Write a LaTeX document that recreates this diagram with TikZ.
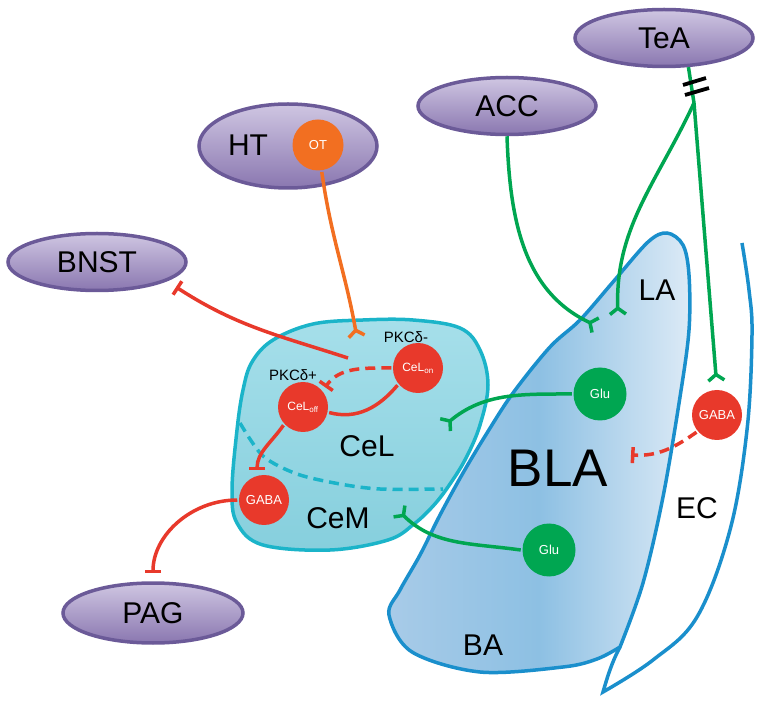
\documentclass[tikz,border=0pt]{standalone}
\usepackage{fontspec}
\setmainfont{Liberation Sans}
\usepackage{tikz}
\usetikzlibrary{shapes.geometric, arrows.meta, positioning}

\definecolor{nred}{HTML}{E8392B}
\definecolor{ngreen}{HTML}{00A651}
\definecolor{norange}{HTML}{F26F21}
\definecolor{areaedge}{HTML}{6B5A98}
\definecolor{areatop}{HTML}{CFC6E2}
\definecolor{areabot}{HTML}{8A77B0}
\definecolor{ceaedge}{HTML}{1BB4C9}
\definecolor{ceatop}{HTML}{A6DFEA}
\definecolor{ceabot}{HTML}{86CFDD}
\definecolor{blaedge}{HTML}{1A8FCC}
\definecolor{blaL}{HTML}{A8CBE8}
\definecolor{blaM}{HTML}{8DC0E3}
\definecolor{blaR}{HTML}{DCEAF6}

\begin{document}
\begin{tikzpicture}[x=1pt, y=-1pt, line width=3.5pt,
	area/.style={ellipse, draw=areaedge, top color=areatop, bottom color=areabot, minimum width=178pt, minimum height=57pt, inner sep=0pt, font=\fontsize{30}{30}\selectfont},
	cell/.style={circle, fill=#1, minimum size=50pt, inner sep=0pt, text=white, font=\fontsize{13}{13}\selectfont},
	lbl/.style={font=\fontsize{30}{30}\selectfont},
	exc/.style={draw=#1, -{Straight Barb[reversed, length=6pt, width=16pt]}},
	inh/.style={draw=nred, -{Bar[width=16pt]}},
	dashy/.style={dash pattern=on 10pt off 6pt}]
	\useasboundingbox (0,0) rectangle (764,703);

	% regions
	\draw[draw=blaedge, left color=blaL, right color=blaR, middle color=blaM]
	plot[smooth, tension=0.55] coordinates {(620,647) (597,659) (563,667) (480,672) (412,652) (389,615) (400,590) (420,555) (440,515) (463,473) (487,433) (513,393) (550,347) (580,320) (613,282) (648,242) (667,233) (683,245) (689,275) (689,330) (680,397) (663,497) (643,583) (620,647)} -- cycle;
	\draw[draw=blaedge] plot[smooth, tension=0.6] coordinates {(742,243) (749,290) (752,335) (747,430) (730,530) (697,617) (653,660) (603,692)} .. controls (608,675) and (612,662) .. (620,647);
	\draw[draw=ceaedge, top color=ceatop, bottom color=ceabot]
	plot[smooth cycle, tension=0.6] coordinates {(273,340) (313,324) (363,320) (413,320) (460,328) (480,350) (488,385) (480,425) (466,458) (450,484) (434,505) (414,524) (388,540) (330,550) (263,545) (237,523) (232,490) (237,430) (243,390) (252,362)};
	\draw[draw=ceaedge, dashy] plot[smooth] coordinates {(240,423) (263,456) (297,474) (340,484) (380,489) (443,489)};

	\node[lbl] (LA) at (657,290) {LA};
	\node[font=\fontsize{53}{53}\selectfont] (BLA) at (558,468) {BLA};
	\node[lbl] (BA) at (483,645) {BA};
	\node[lbl] (EC) at (697,508) {EC};
	\node[lbl] (CeL) at (367,446) {CeL};
	\node[lbl] (CeM) at (338,518) {CeM};

	% brain areas
	\node[area] (TeA) at (664,38) {TeA};
	\node[area] (ACC) at (507,106) {ACC};
	\node[area, minimum height=84pt] (HT) at (288,146) {};
	\node[lbl] (HTtxt) at (248,145) {HT};
	\node[area] (BNST) at (97,262) {BNST};
	\node[area, minimum width=180pt, minimum height=60pt] (PAG) at (153,613) {PAG};

	% cells
	\node[cell=norange, minimum size=51pt] (OT) at (318,145) {OT};
	\node[cell=nred, font=\fontsize{12}{12}\selectfont] (CeLon) at (418,368) {CeL\textsubscript{on}};
	\node[cell=nred, font=\fontsize{12}{12}\selectfont] (CeLoff) at (303,407) {CeL\textsubscript{off}};
	\node[cell=nred] (GABAcem) at (264,500) {GABA};
	\node[cell=ngreen, minimum size=53pt] (GluLA) at (600,394) {Glu};
	\node[cell=ngreen, minimum size=53pt] (GluBA) at (549,550) {Glu};
	\node[cell=nred] (GABAec) at (717,415) {GABA};
	\node[font=\fontsize{15}{15}\selectfont] (PKCm) at (406,337) {PKCδ-};
	\node[font=\fontsize{15}{15}\selectfont] (PKCp) at (293,375) {PKCδ+};

	\coordinate (otend) at (357,338);
	\coordinate (bnstaxon) at (348,358);
	\coordinate (bnstend) at (176,287);
	\coordinate (accend) at (597,326);
	\coordinate (teasplit) at (694,103);
	\coordinate (teala) at (618,316);
	\coordinate (glucel) at (444,426);
	\coordinate (glucem) at (398,510);
	\coordinate (blaend) at (631,455);

	\path
	(OT) edge[exc=norange, out=-82, in=100] (otend)
	(bnstaxon) edge[inh, out=162, in=-33] (bnstend)
	(CeLon.west) edge[inh, dashy, out=180, in=55, shorten >=3pt] (CeLoff.40)
	(CeLon.-140) edge[draw=nred, out=-130, in=-15] (CeLoff.-12)
	(CeLoff.-137) edge[inh, out=-125, in=90, shorten >=4pt] (GABAcem.105)
	(GABAcem.west) edge[inh, out=180, in=90, shorten >=8pt] (PAG.north)
	(ACC.south) edge[exc=ngreen, out=-88, in=155] (accend)
	(TeA.-50) edge[draw=ngreen] (teasplit)
	(teasplit) edge[exc=ngreen, out=-115, in=92] (teala)
	(teasplit) edge[exc=ngreen, shorten >=6pt] (GABAec.north)
	(GABAec.-140) edge[inh, dashy, out=-145, in=-3] (blaend)
	(GluLA.west) edge[exc=ngreen, out=180, in=40] (glucel)
	(GluBA.west) edge[exc=ngreen, out=172, in=-45] (glucem);

	% cut mark
	\draw[line width=3.8pt] (683,85) -- (706,78) (685,95) -- (709,88);
\end{tikzpicture}
\end{document}
